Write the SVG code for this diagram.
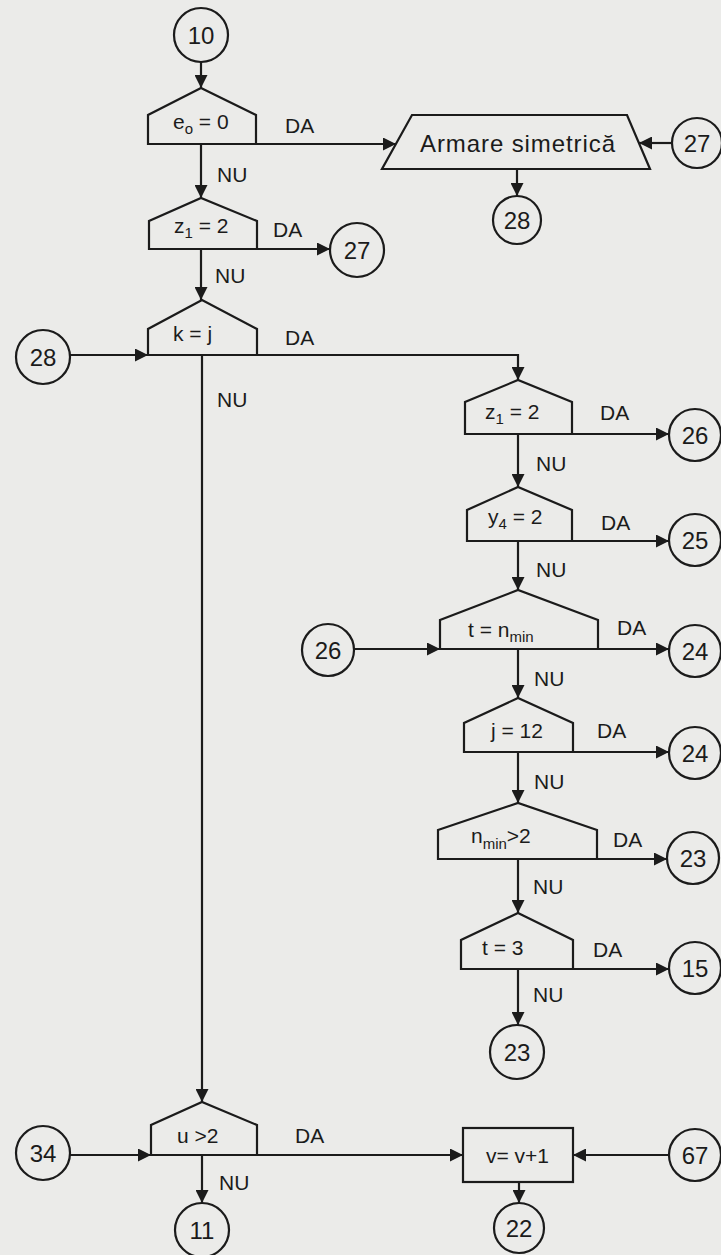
<svg xmlns="http://www.w3.org/2000/svg" width="721" height="1255" viewBox="0 0 721 1255">
<defs>
<marker id="ah" viewBox="0 0 10 10" refX="10" refY="5" markerWidth="13" markerHeight="13" markerUnits="userSpaceOnUse" orient="auto">
<path d="M0,0 L10,5 L0,10 Z" fill="#1b1b1b"/>
</marker>
<style>
.s{fill:none;stroke:#1b1b1b;stroke-width:2.2}
.c{stroke:#1b1b1b;stroke-width:2.2;fill:none;marker-end:url(#ah)}
.t{font-family:"Liberation Sans",Arial,sans-serif;font-size:21px;fill:#1b1b1b}
.n{font-family:"Liberation Sans",Arial,sans-serif;font-size:24px;fill:#1b1b1b;text-anchor:middle}
.sub{font-size:15px}
</style>
</defs>
<rect x="0" y="0" width="721" height="1255" fill="#ebebe9"/>

<g id="connectors">
<line class="c" x1="201" y1="62" x2="201" y2="88"/>
<line class="c" x1="256" y1="144" x2="396" y2="144"/>
<line class="c" x1="671" y1="143" x2="639" y2="143"/>
<line class="c" x1="517" y1="169" x2="517" y2="196"/>
<line class="c" x1="201" y1="144" x2="201" y2="198"/>
<line class="c" x1="257" y1="249" x2="330" y2="249"/>
<line class="c" x1="201" y1="249" x2="201" y2="300"/>
<line class="c" x1="70" y1="355" x2="148" y2="355"/>
<polyline class="c" points="257,355 518,355 518,380"/>
<line class="c" x1="202" y1="355" x2="202" y2="1102"/>
<line class="c" x1="572" y1="434" x2="669" y2="434"/>
<line class="c" x1="518" y1="434" x2="518" y2="487"/>
<line class="c" x1="572" y1="541" x2="669" y2="541"/>
<line class="c" x1="518" y1="541" x2="518" y2="590"/>
<line class="c" x1="354" y1="649" x2="440" y2="649"/>
<line class="c" x1="598" y1="649" x2="669" y2="649"/>
<line class="c" x1="518" y1="649" x2="518" y2="698"/>
<line class="c" x1="573" y1="752" x2="669" y2="752"/>
<line class="c" x1="518" y1="752" x2="518" y2="803"/>
<line class="c" x1="597" y1="859" x2="667" y2="859"/>
<line class="c" x1="518" y1="859" x2="518" y2="913"/>
<line class="c" x1="573" y1="969" x2="669" y2="969"/>
<line class="c" x1="518" y1="969" x2="518" y2="1025"/>
<line class="c" x1="70" y1="1155" x2="151" y2="1155"/>
<line class="c" x1="257" y1="1155" x2="463" y2="1155"/>
<line class="c" x1="669" y1="1155" x2="573" y2="1155"/>
<line class="c" x1="519" y1="1182" x2="519" y2="1203"/>
<line class="c" x1="202" y1="1155" x2="202" y2="1203"/>
</g>

<g id="edge-labels">
<text class="t" x="285" y="133">DA</text>
<text class="t" x="217" y="182">NU</text>
<text class="t" x="273" y="237">DA</text>
<text class="t" x="215" y="283">NU</text>
<text class="t" x="285" y="345">DA</text>
<text class="t" x="217" y="407">NU</text>
<text class="t" x="600" y="420">DA</text>
<text class="t" x="536" y="471">NU</text>
<text class="t" x="601" y="530">DA</text>
<text class="t" x="536" y="577">NU</text>
<text class="t" x="617" y="635">DA</text>
<text class="t" x="534" y="686">NU</text>
<text class="t" x="597" y="738">DA</text>
<text class="t" x="534" y="789">NU</text>
<text class="t" x="613" y="847">DA</text>
<text class="t" x="533" y="894">NU</text>
<text class="t" x="593" y="957">DA</text>
<text class="t" x="533" y="1002">NU</text>
<text class="t" x="295" y="1143">DA</text>
<text class="t" x="219" y="1190">NU</text>
</g>

<g id="c10"><circle class="s" cx="201" cy="35" r="27"/><text class="n" x="201" y="44">10</text></g>

<g id="d-e0"><path class="s" d="M148,144 L148,115 L201,88 L256,115 L256,144 Z"/>
<text class="t" x="173" y="129">e<tspan class="sub" dy="5">o</tspan><tspan dy="-5"> = 0</tspan></text></g>

<g id="armare"><path class="s" d="M412,115 L627,115 L650,169 L382,169 Z"/>
<text class="t" x="420" y="152" style="font-size:24px" textLength="195" lengthAdjust="spacing">Armare simetrică</text></g>

<g id="c27a"><circle class="s" cx="697" cy="143" r="25"/><text class="n" x="697" y="152">27</text></g>
<g id="c28a"><circle class="s" cx="517" cy="220" r="24"/><text class="n" x="517" y="229">28</text></g>

<g id="d-z1-left"><path class="s" d="M149,249 L149,221 L201,198 L257,221 L257,249 Z"/>
<text class="t" x="174" y="233">z<tspan class="sub" dy="5">1</tspan><tspan dy="-5"> = 2</tspan></text></g>

<g id="c27b"><circle class="s" cx="357" cy="250" r="27"/><text class="n" x="357" y="259">27</text></g>

<g id="d-kj"><path class="s" d="M148,355 L148,329 L202,300 L257,329 L257,355 Z"/>
<text class="t" x="173" y="341">k = j</text></g>

<g id="c28b"><circle class="s" cx="43" cy="357" r="27"/><text class="n" x="43" y="366">28</text></g>

<g id="d-z1-right"><path class="s" d="M465,434 L465,402 L518,380 L572,402 L572,434 Z"/>
<text class="t" x="485" y="419">z<tspan class="sub" dy="5">1</tspan><tspan dy="-5"> = 2</tspan></text></g>

<g id="c26a"><circle class="s" cx="695" cy="435" r="26"/><text class="n" x="695" y="444">26</text></g>

<g id="d-y4"><path class="s" d="M467,541 L467,510 L518,487 L572,510 L572,541 Z"/>
<text class="t" x="488" y="524">y<tspan class="sub" dy="5">4</tspan><tspan dy="-5"> = 2</tspan></text></g>

<g id="c25"><circle class="s" cx="695" cy="540" r="26"/><text class="n" x="695" y="549">25</text></g>

<g id="d-tnmin"><path class="s" d="M440,649 L440,620 L518,590 L598,620 L598,649 Z"/>
<text class="t" x="468" y="637">t = n<tspan class="sub" dy="5">min</tspan></text></g>

<g id="c26b"><circle class="s" cx="328" cy="650" r="26"/><text class="n" x="328" y="659">26</text></g>
<g id="c24a"><circle class="s" cx="695" cy="651" r="26"/><text class="n" x="695" y="660">24</text></g>

<g id="d-j12"><path class="s" d="M464,752 L464,723 L518,698 L573,723 L573,752 Z"/>
<text class="t" x="491" y="738">j = 12</text></g>

<g id="c24b"><circle class="s" cx="695" cy="753" r="26"/><text class="n" x="695" y="762">24</text></g>

<g id="d-nmin"><path class="s" d="M438,859 L438,830 L518,803 L597,830 L597,859 Z"/>
<text class="t" x="471" y="843">n<tspan class="sub" dy="6">min</tspan><tspan dy="-6">&gt;2</tspan></text></g>

<g id="c23a"><circle class="s" cx="693" cy="858" r="26"/><text class="n" x="693" y="867">23</text></g>

<g id="d-t3"><path class="s" d="M461,969 L461,940 L518,913 L573,940 L573,969 Z"/>
<text class="t" x="482" y="955">t = 3</text></g>

<g id="c15"><circle class="s" cx="695" cy="968" r="26"/><text class="n" x="695" y="977">15</text></g>
<g id="c23b"><circle class="s" cx="517" cy="1052" r="27"/><text class="n" x="517" y="1061">23</text></g>

<g id="d-u2"><path class="s" d="M151,1155 L151,1125 L202,1102 L257,1125 L257,1155 Z"/>
<text class="t" x="177" y="1143">u &gt;2</text></g>

<g id="c34"><circle class="s" cx="43" cy="1153" r="27"/><text class="n" x="43" y="1162">34</text></g>
<g id="c11"><circle class="s" cx="202" cy="1230" r="27"/><text class="n" x="202" y="1239">11</text></g>

<g id="box-v"><rect class="s" x="463" y="1128" width="110" height="54"/>
<text class="t" x="486" y="1163">v= v+1</text></g>

<g id="c67"><circle class="s" cx="695" cy="1155" r="26"/><text class="n" x="695" y="1164">67</text></g>
<g id="c22"><circle class="s" cx="519" cy="1228" r="25"/><text class="n" x="519" y="1237">22</text></g>
</svg>
